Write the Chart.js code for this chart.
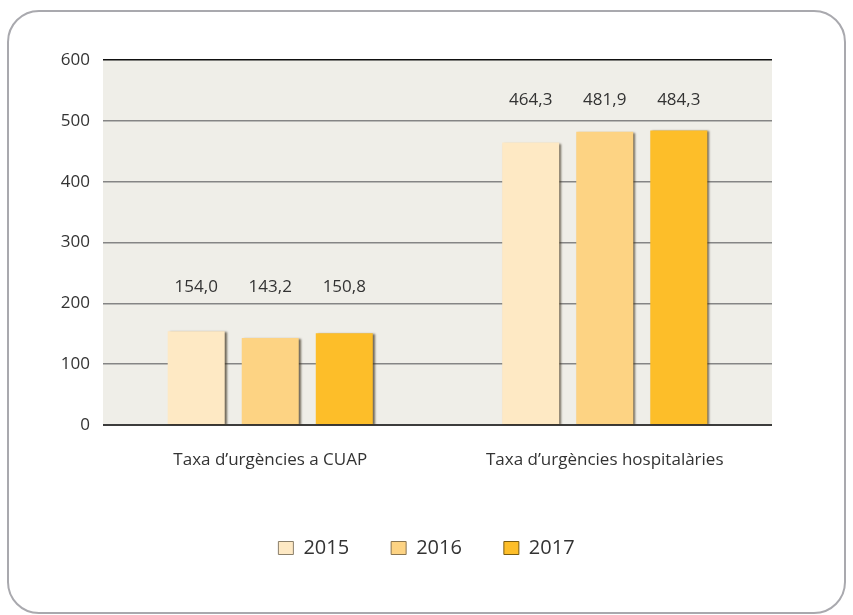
<!DOCTYPE html>
<html>
<head>
<meta charset="utf-8">
<script src="https://cdn.jsdelivr.net/npm/chart.js@4"></script>
<style>
  html, body { margin: 0; padding: 0; background: #fff; }
  #wrap { position: relative; width: 853px; height: 615px; overflow: hidden; }
  #frame {
    position: absolute; left: 7px; top: 10px; width: 835px; height: 600px;
    border: 2px solid #a9a9ae; border-radius: 32px; box-sizing: content-box;
  }
  #chart { position: absolute; left: 0; top: 0; }
</style>
</head>
<body>
<div id="wrap">
  <div id="frame"></div>
  <canvas id="chart" width="853" height="615"></canvas>
</div>
<script>
// dades
const categories = ['Taxa d\u2019urg\u00e8ncies a CUAP', 'Taxa d\u2019urg\u00e8ncies hospital\u00e0ries'];
const years = ['2015', '2016', '2017'];
const values2015 = [154.0, 464.3];
const values2016 = [143.2, 481.9];
const values2017 = [150.8, 484.3];
const yTicks = [0, 100, 200, 300, 400, 500, 600];

const colors = ['#fee9c4', '#fdd383', '#fdbe29'];
const edges = ['#8a7f6a', '#8a7550', '#7a5c10'];

// fons de l'àrea del gràfic
const plotBg = {
    id: 'plotBg',
    beforeDraw(chart) {
        const a = chart.chartArea;
        const ctx = chart.ctx;
        ctx.save();
        ctx.fillStyle = '#efeee8';
        ctx.fillRect(a.left, a.top, a.right - a.left, a.bottom - a.top);
        ctx.restore();
    }
};

// ombra de les barres
const barShadow = {
    id: 'barShadow',
    beforeDatasetsDraw(chart) {
        const ctx = chart.ctx;
        ctx.save();
        ctx.shadowColor = 'rgba(60,50,30,0.7)';
        ctx.shadowOffsetX = 2;
        ctx.shadowOffsetY = 1;
        ctx.shadowBlur = 2;
    },
    afterDatasetsDraw(chart) {
        chart.ctx.restore();
    }
};

// etiquetes de valor, alineades per categoria
const labelGap = [44, 30];
const valueLabels = {
    id: 'valueLabels',
    afterDatasetsDraw(chart) {
        const ctx = chart.ctx;
        const yScale = chart.scales.y;
        ctx.save();
        ctx.font = '17px "Open Sans"';
        ctx.fillStyle = '#333';
        ctx.textAlign = 'center';
        ctx.textBaseline = 'middle';
        categories.forEach((c, i) => {
            const top = Math.max(...chart.data.datasets.map(d => d.data[i]));
            const y = yScale.getPixelForValue(top) - labelGap[i];
            chart.data.datasets.forEach((d, k) => {
                const bar = chart.getDatasetMeta(k).data[i];
                ctx.fillText(d.data[i].toFixed(1).replace('.', ','), bar.x, y);
            });
        });
        ctx.restore();
    }
};

const series = [values2015, values2016, values2017];

new Chart(document.getElementById('chart'), {
    type: 'bar',
    data: {
        labels: categories,
        datasets: years.map((yr, k) => ({
            label: yr,
            data: series[k],
            backgroundColor: colors[k],
            borderColor: edges[k],
            borderWidth: 0,
            categoryPercentage: 0.664,
            barPercentage: 0.77
        }))
    },
    options: {
        responsive: false,
        animation: false,
        layout: { padding: { top: 60, right: 0, bottom: 47, left: 0 } },
        plugins: {
            tooltip: { enabled: false },
            legend: {
                position: 'bottom',
                labels: {
                    color: '#333',
                    font: { family: 'Open Sans', size: 20 },
                    boxWidth: 15,
                    boxHeight: 13,
                    padding: 42,
                    generateLabels(chart) {
                        return chart.data.datasets.map((d, k) => ({
                            text: d.label,
                            fillStyle: colors[k],
                            strokeStyle: edges[k],
                            lineWidth: 1,
                            fontColor: '#333',
                            datasetIndex: k
                        }));
                    }
                }
            }
        },
        scales: {
            x: {
                grid: { display: false, drawTicks: false },
                border: { display: false },
                ticks: { color: '#333', font: { family: 'Open Sans', size: 17 }, padding: 25 },
                afterFit(scale) { scale.height = 71; }
            },
            y: {
                min: 0,
                max: 600,
                afterBuildTicks(scale) { scale.ticks = yTicks.map(v => ({ value: v })); },
                grid: {
                    drawTicks: false,
                    color(ctx) {
                        if (ctx.tick.value === 600) return '#111';
                        if (ctx.tick.value === 0) return '#3c3c3c';
                        return '#858585';
                    },
                    lineWidth(ctx) { return ctx.tick.value === 0 ? 2 : 1.5; }
                },
                border: { display: false },
                ticks: { color: '#333', font: { family: 'Open Sans', size: 17 }, padding: 13 },
                afterFit(scale) { scale.width = 103; }
            },
            // marge dret buit, perquè la llegenda quedi centrada a tota l'amplada
            right: {
                position: 'right',
                min: 0,
                max: 600,
                grid: { display: false, drawTicks: false },
                border: { display: false },
                ticks: { display: false },
                afterFit(scale) { scale.width = 81; }
            }
        }
    },
    plugins: [plotBg, barShadow, valueLabels]
});
</script>
</body>
</html>
